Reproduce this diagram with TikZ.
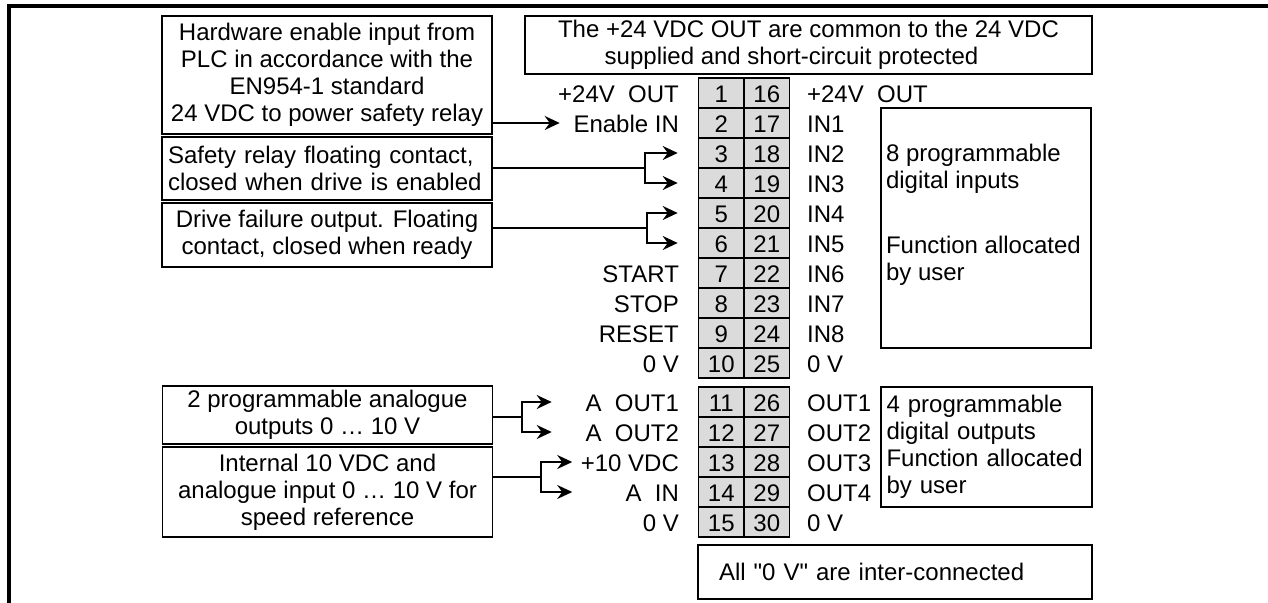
\documentclass[tikz,border=0pt]{standalone}
\usepackage{fontspec}
\setmainfont{Liberation Sans}
\usetikzlibrary{positioning,arrows.meta}

\begin{document}
\begin{tikzpicture}[x=0.5pt,y=-0.5pt,
		font=\fontsize{12pt}{13.5pt}\selectfont,line width=0.8pt,
		>={Stealth[length=7.5pt,width=7pt,inset=2.5pt]},
		box/.style={draw,inner sep=0pt,minimum width=165pt,align=center},
		note/.style={draw,inner sep=0pt},
		cell/.style={draw,fill=black!14,inner sep=0pt,minimum width=22.75pt,minimum height=15pt,text height=9.5pt,text depth=0pt},
		lbl/.style={inner sep=0pt,text height=9.5pt,text depth=0pt}]
		\useasboundingbox (0,0) rectangle (1268,603);
		\draw[line width=2pt] (9,603)--(9,6)--(1268,6);
		% terminal block
		\foreach \n in {1,...,10}{
			\pgfmathtruncatemacro\m{\n+15}
			\node[cell] (t\n) at (721.25,{63+30*\n}) {\n};
			\node[cell] (t\m) at (766.75,{63+30*\n}) {\m};
		}
		\foreach \n in {11,...,15}{
			\pgfmathtruncatemacro\m{\n+15}
			\node[cell] (t\n) at (721.25,{72+30*\n}) {\n};
			\node[cell] (t\m) at (766.75,{72+30*\n}) {\m};
		}
		\foreach \n/\txt in {1/+24V~~OUT,2/Enable IN,7/START,8/STOP,9/RESET,10/0 V,11/A~~OUT1,12/A~~OUT2,13/+10 VDC,14/A~~IN,15/0 V}
			\node[lbl,left=9pt of t\n] (lb\n) {\txt};
		\foreach \n/\txt in {16/+24V~~OUT,17/IN1,18/IN2,19/IN3,20/IN4,21/IN5,22/IN6,23/IN7,24/IN8,25/0 V,26/OUT1,27/OUT2,28/OUT3,29/OUT4,30/0 V}
			\node[lbl,right=8pt of t\n] (lb\n) {\txt};
		% boxes
		\node[box,minimum height=59pt] (hwbox) at (327,75) {Hardware enable input from\\PLC in accordance with the\\EN954-1 standard\\24 VDC to power safety relay};
		\node[box,minimum height=31.5pt,align=left,text width=159pt] (sfbox) at (327,168.5) {Safety relay floating contact,\\closed when drive is enabled};
		\node[box,minimum height=32pt] (failbox) at (327,235) {Drive failure output. Floating\\contact, closed when ready};
		\node[box,minimum height=29pt] (aobox) at (327.5,415) {2 programmable analogue\\outputs 0 … 10 V};
		\node[box,minimum height=45pt] (aibox) at (327.5,492) {Internal 10 VDC and\\analogue input 0 … 10 V for\\speed reference};
		\node[note,minimum width=283.5pt,minimum height=29pt,align=center] (vccbox) at (808.5,45) {The +24 VDC OUT are common to the 24 VDC\\supplied and short-circuit protected\hspace*{17pt}};
		\node[note,minimum width=105pt,minimum height=120pt] (dinbox) at (986,228) {};
		\node[anchor=north west,align=left,inner sep=0pt] (dintxt) at ([shift={(5,36)}]dinbox.north west) {8 programmable\\digital inputs\\[19pt]Function allocated\\by user};
		\node[note,minimum width=105.5pt,minimum height=60pt,align=left,text width=100pt] (doutbox) at (986.5,447) {4 programmable\\digital outputs\\Function allocated\\by user};
		\node[note,minimum width=197pt,minimum height=27pt,align=left,text width=176pt] (zerobox) at (895,572) {All \textquotedbl0 V\textquotedbl\ are inter-connected};
		% connectors
		\coordinate (j1) at (645,168);
		\coordinate (j2) at (647,228);
		\coordinate (j3) at (522,417);
		\coordinate (j4) at (541,477);
		\draw[->,shorten >=6.5pt] (hwbox.east |- lb2.west)--(lb2.west);
		\draw (sfbox.east |- j1)--(j1);
		\draw[->] (j1) |- ([xshift=-10pt]t3.west);
		\draw[->] (j1) |- ([xshift=-10pt]t4.west);
		\draw (failbox.east |- j2)--(j2);
		\draw[->] (j2) |- ([xshift=-10pt]t5.west);
		\draw[->] (j2) |- ([xshift=-10pt]t6.west);
		\draw (aobox.east |- j3)--(j3);
		\draw[->] (j3) |- ([xshift=-73pt]t11.west);
		\draw[->] (j3) |- ([xshift=-73pt]t12.west);
		\draw (aibox.east |- j4)--(j4);
		\draw[->] (j4) |- ([xshift=-62.75pt]t13.west);
		\draw[->] (j4) |- ([xshift=-62.75pt]t14.west);
\end{tikzpicture}
\end{document}
